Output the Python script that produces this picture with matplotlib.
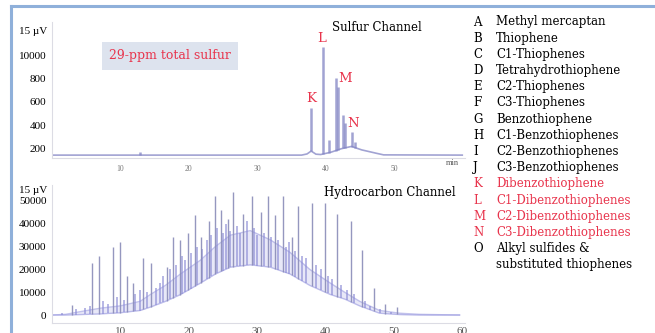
import numpy as np
import matplotlib
matplotlib.use("Agg")
from matplotlib import pyplot as plt

# sulfur channel peaks (min, signal)
s_peak_t = [12.9, 37.88, 39.64, 40.51, 41.53, 41.82, 42.55, 42.85, 43.87, 44.31]
s_peak_v = [168, 546, 1071, 270, 804, 730, 486, 416, 340, 254]
# sulfur baseline points
s_base_t = [0, 36.5, 37.3, 37.9, 38.6, 39.3, 40.8, 42.3, 43.8, 45.3, 47.5, 48.5, 60]
s_base_v = [140, 140, 150, 175, 148, 145, 165, 195, 215, 185, 155, 142, 140]
# peak labels
s_lab = ["K", "L", "M", "N"]
s_lab_t = [37.9, 39.4, 42.8, 44.0]
s_lab_v = [625, 1150, 805, 410]

# hydrocarbon channel: unresolved hump (lower / upper edge) and resolved peaks
h_band_t = [0, 2.0, 4.2, 7.1, 10.0, 12.9, 14.4, 16.6, 18.8, 21.7, 23.9, 26.1, 29.0,
            31.9, 34.8, 37.7, 40.7, 42.8, 45.0, 47.9, 50.8, 53.7, 59.6]
h_band_lo = [0, 0, 200, 500, 1000, 2000, 3500, 6000, 9000, 14000, 18000, 21000, 22000,
             21000, 18000, 13000, 9000, 7000, 4000, 800, 200, 0, 0]
h_band_hi = [0, 300, 1500, 3000, 4000, 6000, 9000, 13000, 18000, 24000, 30000, 35000, 37000,
             33000, 27500, 20000, 14000, 10000, 6000, 2000, 800, 300, 0]
h_peak_t = [2.99, 5.91, 6.93, 8.98, 10.0, 11.02, 11.9, 13.36, 14.53, 16.86, 17.74, 18.76,
            19.93, 20.95, 21.82, 22.99, 23.87, 24.74, 25.77, 26.5, 27.96, 29.27, 30.58,
            31.61, 32.63, 33.8, 35.11, 35.99, 38.03, 39.93, 41.68, 43.72, 45.33, 47.08,
            48.69, 50.44]
h_peak_v = [4400, 23000, 26000, 30000, 32000, 17000, 14000, 25000, 23000, 21000, 34000, 33000,
            36000, 44000, 34000, 41000, 52000, 46000, 42000, 54000, 44500, 52000, 45000,
            52000, 44000, 52000, 34000, 48000, 49000, 49000, 44500, 41000, 28500, 12000,
            5000, 3500]
# smaller peaks riding on the hump
h_minor_t = [1.5, 3.5, 4.8, 5.5, 7.5, 8.2, 9.5, 10.6, 12.2, 12.8, 13.9, 15.2, 15.8, 16.3,
             17.2, 18.2, 19.0, 19.5, 20.3, 21.2, 22.0, 22.6, 23.3, 24.2, 25.0, 25.5, 26.0,
             27.0, 27.5, 28.5, 29.5, 30.0, 31.0, 32.0, 33.0, 34.2, 34.7, 35.5, 36.5, 37.2,
             38.6, 39.3, 40.3, 41.0, 42.2, 43.2, 44.2, 45.8, 46.5, 48.0, 49.6]
h_minor_v = [800, 2500, 3000, 4000, 6000, 5000, 8000, 6500, 9000, 11000, 10000, 12000, 14000,
             17000, 20000, 22000, 26000, 24000, 27000, 30000, 29000, 33000, 35000, 38000,
             36000, 40000, 37000, 39000, 36000, 41000, 38000, 35000, 36000, 34000, 33000,
             30000, 32000, 28000, 26000, 25000, 22000, 20000, 17000, 16000, 13000, 11000,
             9000, 6000, 4000, 2500, 1500]

legend_keys = list("ABCDEFGHIJKLMNO")
legend_names = ["Methyl mercaptan", "Thiophene", "C1-Thiophenes", "Tetrahydrothiophene",
                "C2-Thiophenes", "C3-Thiophenes", "Benzothiophene", "C1-Benzothiophenes",
                "C2-Benzothiophenes", "C3-Benzothiophenes", "Dibenzothiophene",
                "C1-Dibenzothiophenes", "C2-Dibenzothiophenes", "C3-Dibenzothiophenes",
                "Alkyl sulfides &\nsubstituted thiophenes"]
red_keys = "KLMN"

RED = "#e8344c"
TRACE = "#8284c4"
SPINE = "#dcdce4"
serif = ["DejaVu Serif"]
tick_font = ["Liberation Serif"]

fig = plt.figure(figsize=(6.55, 3.33), dpi=100)
fig.patch.set_facecolor("white")

# blue frame (left and top)
fig.add_artist(plt.Line2D([11/655, 11/655], [0, 1 - 6/333], color="#8fb0da", lw=2.2))
fig.add_artist(plt.Line2D([11/655, 1], [1 - 6/333, 1 - 6/333], color="#8fb0da", lw=2.2))

# ---- sulfur channel
ax1 = fig.add_axes([52/655, 1 - 158/333, 413/655, 136/333])
ax1.plot(s_base_t, s_base_v, color=TRACE, lw=1.2, alpha=0.75)
bases = np.interp(s_peak_t, s_base_t, s_base_v)
ax1.vlines(s_peak_t, bases, s_peak_v, color=TRACE, lw=1.8, alpha=0.75)
for lab, t, v in zip(s_lab, s_lab_t, s_lab_v):
    ax1.text(t, v, lab, color=RED, fontsize=9.5, family=serif, ha="center", va="center")
ax1.set_xlim(0, 60.4)
ax1.set_ylim(115, 1290)
ax1.set_xticks([10, 20, 30, 40, 50])
ax1.set_xticklabels(["10", "20", "30", "40", "50"], fontsize=5.5, color="#777777",
                    family=tick_font)
ax1.set_yticks([200, 400, 600, 800, 1000])
ax1.set_yticklabels(["200", "400", "600", "800", "10000"], fontsize=8, family=tick_font)
ax1.tick_params(length=0, pad=4)
ax1.tick_params(axis="x", pad=5)
ax1.text(-0.012, 1209, "15 µV", transform=ax1.get_yaxis_transform(), ha="right",
         va="center", fontsize=8, family=tick_font)
ax1.text(58.5, 105, "min", fontsize=6, color="#555555", family=tick_font, ha="center",
         va="top")
ax1.text(0.787, 1.005, "Sulfur Channel", transform=ax1.transAxes, fontsize=8.5,
         family=serif, ha="center", va="top")
ax1.text(17.25, 1000, "29-ppm total sulfur", color=RED, fontsize=9, family=serif,
         ha="center", va="center",
         bbox=dict(boxstyle="square,pad=0.6", fc="#dde3ee", ec="none"))
for sp in ["top", "right"]:
    ax1.spines[sp].set_visible(False)
for sp in ["left", "bottom"]:
    ax1.spines[sp].set_color(SPINE)

# ---- hydrocarbon channel
ax2 = fig.add_axes([52/655, 1 - 323/333, 413/655, 138/333])
ax2.fill_between(h_band_t, h_band_lo, h_band_hi, color="#b4b4e8", alpha=0.3, lw=0)
ax2.plot(h_band_t, h_band_lo, color="#9a9ae0", lw=1.0, alpha=0.6)
ax2.plot(h_band_t, h_band_hi, color="#9a9ae0", lw=1.0, alpha=0.6)
mb = np.interp(h_minor_t, h_band_t, h_band_lo)
ax2.vlines(h_minor_t, mb, h_minor_v, color="#8e8ed6", lw=1.2, alpha=0.75)
pb = np.interp(h_peak_t, h_band_t, h_band_lo)
ax2.vlines(h_peak_t, pb, h_peak_v, color="#8a8cb8", lw=1.0, alpha=0.9)
ax2.set_xlim(0, 60.4)
ax2.set_ylim(-3500, 57000)
ax2.set_xticks([10, 20, 30, 40, 50, 60])
ax2.set_xticklabels(["10", "20", "30", "40", "50", "60"], fontsize=8, color="#555555",
                    family=tick_font)
ax2.set_yticks([0, 10000, 20000, 30000, 40000, 50000])
ax2.set_yticklabels(["0", "10000", "20000", "30000", "40000", "50000"], fontsize=8,
                    family=tick_font)
ax2.tick_params(length=0, pad=4)
ax2.tick_params(axis="x", pad=3)
ax2.text(-0.012, 54800, "15 µV", transform=ax2.get_yaxis_transform(), ha="right",
         va="center", fontsize=8, family=tick_font)
ax2.text(0.818, 0.995, "Hydrocarbon Channel", transform=ax2.transAxes, fontsize=8.5,
         family=serif, ha="center", va="top")
for sp in ["top", "right"]:
    ax2.spines[sp].set_visible(False)
for sp in ["left", "bottom"]:
    ax2.spines[sp].set_color(SPINE)

# ---- compound key
y0 = 1 - 22/333
dy = 16.2/333
row = 0
for k, name in zip(legend_keys, legend_names):
    c = RED if k in red_keys else "black"
    y = y0 - row * dy
    fig.text(473/655, y, k, color=c, fontsize=8.5, family=serif, va="center")
    lines = name.split("\n")
    for j, ln in enumerate(lines):
        fig.text(496/655, y - j * dy, ln, color=c, fontsize=8.5, family=serif, va="center")
    row += len(lines)

fig.savefig("out.png", dpi=100)
